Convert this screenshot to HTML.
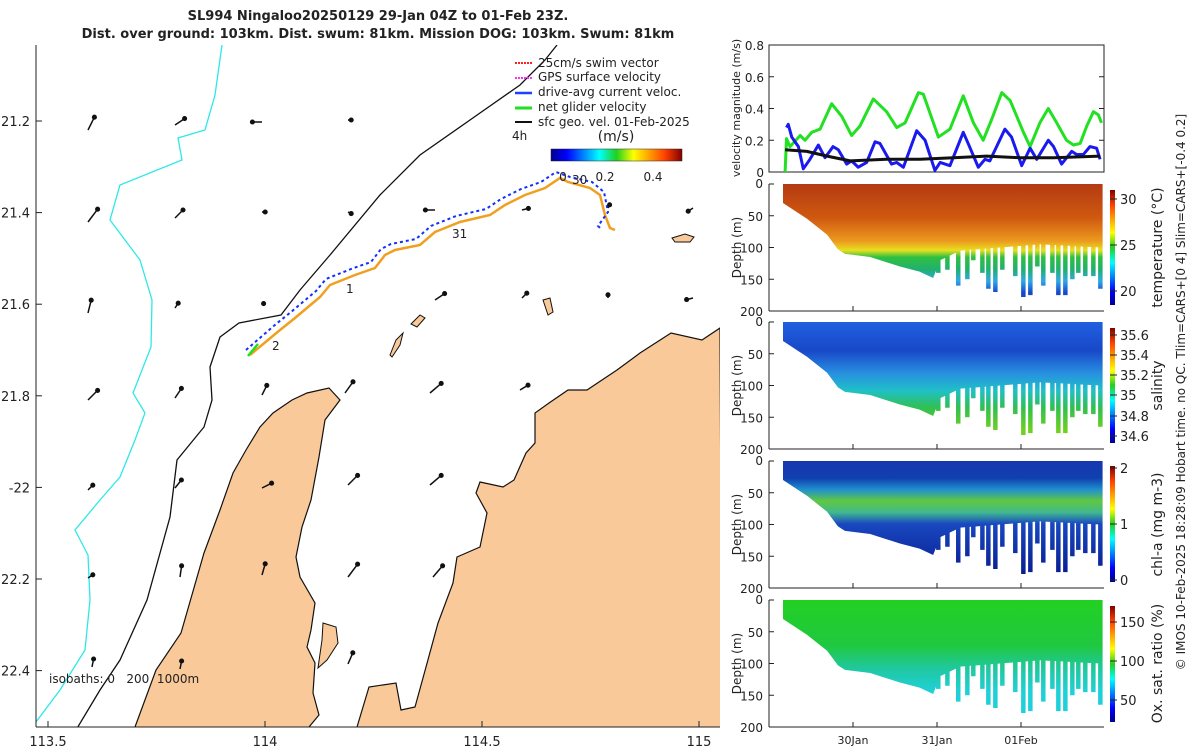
<!DOCTYPE html>
<html><head><meta charset="utf-8">
<style>
body{margin:0;background:#fff;width:1200px;height:750px;overflow:hidden;font-family:"Liberation Sans","DejaVu Sans",sans-serif;}
svg text{font-family:"DejaVu Sans","Liberation Sans",sans-serif;fill:#222;}
</style></head>
<body>
<svg id="fig" width="1200" height="750" viewBox="0 0 1200 750">
<defs>
<linearGradient id="jet" x1="0" x2="1" y1="0" y2="0">
<stop offset="0" stop-color="#00008f"/><stop offset="0.12" stop-color="#0000ff"/><stop offset="0.37" stop-color="#00ffff"/><stop offset="0.5" stop-color="#20d020"/><stop offset="0.63" stop-color="#ffff00"/><stop offset="0.87" stop-color="#ff4000"/><stop offset="1" stop-color="#800000"/>
</linearGradient>
<linearGradient id="jetv" x1="0" x2="0" y1="1" y2="0">
<stop offset="0" stop-color="#00008f"/><stop offset="0.12" stop-color="#0000ff"/><stop offset="0.37" stop-color="#00ffff"/><stop offset="0.5" stop-color="#20d020"/><stop offset="0.63" stop-color="#ffff00"/><stop offset="0.87" stop-color="#ff4000"/><stop offset="1" stop-color="#800000"/>
</linearGradient>
</defs>

<text x="378" y="20" text-anchor="middle" font-size="13" font-weight="bold">SL994 Ningaloo20250129 29-Jan 04Z to 01-Feb 23Z.</text>
<text x="378" y="38" text-anchor="middle" font-size="13" font-weight="bold">Dist. over ground: 103km. Dist. swum: 81km. Mission DOG: 103km. Swum: 81km</text>

<g>
<clipPath id="mapclip"><rect x="36" y="45" width="684" height="682"/></clipPath>
<g clip-path="url(#mapclip)">
<path fill="#f9c99a" stroke="#111" stroke-width="1.2" d="M130,730 L135,727 L156,670 L181,633 L204,553 L220,510 L233,473 L246,450 L260,427 L273,413 L292,400 L307,393 L329,388 L340,400 L325,420 L319,457 L311,500 L302,527 L296,557 L300,577 L315,603 L311,630 L307,647 L315,663 L313,693 L319,715 L309,727 L305,730 Z"/>
<path fill="#f9c99a" stroke="#111" stroke-width="1.2" d="M355,730 L357,727 L369,687 L396,683 L401,710 L415,707 L426,667 L438,623 L453,583 L457,557 L480,547 L487,513 L476,493 L480,482 L503,487 L514,480 L526,453 L535,443 L535,413 L549,403 L568,390 L587,390 L617,370 L640,353 L671,333 L702,340 L720,328 L722,730 Z"/>
<path fill="#f9c99a" stroke="#111" stroke-width="1" d="M323,623 L336,627 L338,643 L327,660 L318,668 L322,640 Z"/>
<path fill="#f9c99a" stroke="#111" d="M390,355 L396,340 L403,333 L400,345 L392,357 Z"/>
<path fill="#f9c99a" stroke="#111" d="M411,324 L420,315 L425,318 L417,327 Z"/>
<path fill="#f9c99a" stroke="#111" d="M543,300 L550,298 L553,312 L548,315 Z"/>
<path fill="#f9c99a" stroke="#111" d="M672,238 L685,234 L694,237 L690,242 L675,242 Z"/>
<path fill="none" stroke="#111" stroke-width="1.3" d="M76,730 L100,690 L120,660 L147,600 L170,517 L177,460 L204,427 L212,400 L210,367 L220,337 L239,323 L281,315 L300,290 L330,255 L380,195 L420,155 L470,120 L520,85 L545,60 L557,45"/>
<path fill="none" stroke="#2ee8e8" stroke-width="1.3" d="M222,45 L215,95 L205,130 L178,138 L182,160 L120,185 L110,220 L140,260 L152,300 L151,347 L133,393 L145,413 L135,440 L120,477 L100,500 L75,530 L88,555 L90,600 L85,650 L60,690 L36,722"/>
<polyline fill="none" stroke="#f0a020" stroke-width="2.5" points="250,355 280,330 295,318 320,297 330,285 355,275 375,268 385,255 395,250 420,245 435,232 440,230 460,222 490,215 505,205 525,195 545,188 560,178 568,182 590,188 600,195 605,215 610,228 615,230"/>
<polyline fill="none" stroke="#1030ff" stroke-width="2" stroke-dasharray="3,3" points="246,350 276,324 291,312 316,291 326,279 351,269 371,262 381,249 391,244 416,239 431,226 436,224 456,216 486,209 501,199 521,189 541,182 556,172 570,177 592,182 604,192 608,212 598,226 600,228"/>
<line x1="258" y1="344" x2="248" y2="356" stroke="#20e020" stroke-width="2.5"/>
<text x="272" y="350" font-size="12">2</text>
<text x="346" y="293" font-size="12">1</text>
<text x="452" y="238" font-size="12">31</text>
<text x="572" y="184" font-size="12">30</text>
<g stroke="#111" stroke-width="1.5" fill="none" id="arrows"></g>
</g>
<line x1="36" y1="45" x2="36" y2="727" stroke="#222"/>
<line x1="36" y1="727" x2="720" y2="727" stroke="#222"/>
<g id="mapticks" font-size="12"></g>
<text x="49" y="683" font-size="12" xml:space="preserve" style="white-space:pre">isobaths: 0   200  1000m</text>
<g font-size="12">
<line x1="515" y1="63" x2="532" y2="63" stroke="#ff2020" stroke-width="2" stroke-dasharray="2,1"/><text x="538" y="67">25cm/s swim vector</text>
<line x1="515" y1="78" x2="532" y2="78" stroke="#ff30ff" stroke-width="2" stroke-dasharray="2,1"/><text x="538" y="81">GPS surface velocity</text>
<line x1="515" y1="93" x2="532" y2="93" stroke="#2040ff" stroke-width="2.5"/><text x="538" y="96">drive-avg current veloc.</text>
<line x1="515" y1="108" x2="532" y2="108" stroke="#20e020" stroke-width="3"/><text x="538" y="111">net glider velocity</text>
<line x1="515" y1="122" x2="532" y2="122" stroke="#111" stroke-width="2"/><text x="538" y="126">sfc geo. vel. 01-Feb-2025</text>
<text x="512" y="140">4h</text>
</g>
<g>
<text x="616" y="141" font-size="14" text-anchor="middle">(m/s)</text>
<rect x="551" y="149" width="131" height="12" fill="url(#jet)" stroke="#222" stroke-width="0.5"/>
<text x="563" y="181" font-size="12" text-anchor="middle">0</text>
<text x="605" y="181" font-size="12" text-anchor="middle">0.2</text>
<text x="653" y="181" font-size="12" text-anchor="middle">0.4</text>
</g>
</g>

<g id="velchart"></g>
<g id="sections"></g>

<text transform="translate(1185,392) rotate(-90)" text-anchor="middle" font-size="12">© IMOS 10-Feb-2025 18:28:09 Hobart time. no QC. Tlim=CARS+[0 4] Slim=CARS+[-0.4 0.2]</text>
</svg>

<script>
// ---- velocity chart data (hours since 29-Jan 00Z) ----
const greenT=[4.6,5.0,6.0,8.9,10.3,12.2,14.6,17.9,20.8,23.6,26,29.8,33.6,36.5,38.9,42.7,44.1,48.4,51.7,55.5,58.4,61.2,63.6,66.5,68.9,72.7,74.6,77.4,79.8,82.2,85,87,88.9,90.8,92.7,94.1,95];
const greenV=[0,0.21,0.16,0.23,0.2,0.25,0.27,0.43,0.35,0.23,0.29,0.46,0.38,0.28,0.31,0.5,0.49,0.22,0.27,0.48,0.31,0.2,0.33,0.5,0.45,0.25,0.16,0.31,0.4,0.31,0.2,0.17,0.18,0.29,0.38,0.36,0.31];
const blueT=[5.0,5.5,6.5,8.4,9.8,11.7,14.1,16,18.3,19.8,22.2,23.6,25.5,27.9,30.3,31.7,35,36.5,38.4,42.2,44.6,47.4,48.9,51.7,55.5,56.9,59.8,61.7,63.1,67.4,69.3,72.2,74.6,76.5,79.8,81.3,83.6,86.5,87.9,89.8,91.7,93.6,94.6];
const blueV=[0.28,0.3,0.22,0.16,0.02,0.08,0.17,0.09,0.16,0.14,0.05,0.07,0.03,0.06,0.19,0.18,0.05,0.06,0.03,0.26,0.2,0.01,0.06,0.04,0.25,0.18,0.03,0.08,0.07,0.27,0.22,0.04,0.15,0.08,0.2,0.16,0.05,0.13,0.11,0.11,0.16,0.15,0.08];
const blackT=[4.6,10.8,16.6,23.2,33.6,43.2,52.7,62.2,71.7,81.3,94.6];
const blackV=[0.14,0.13,0.1,0.07,0.08,0.08,0.09,0.1,0.09,0.09,0.1];
const velTicks=[0,0.2,0.4,0.6,0.8];
const dateTicks=[{h:24,l:"30Jan"},{h:48,l:"31Jan"},{h:72,l:"01Feb"}];
// ---- section profile data ----
const baseT=[4,10.9,16.6,19.7,21.7,28.9,37.4,43,46.9,48.9,54.6,66,77.4,94.6];
const baseD=[30,55,80,103,110,115,130,138,148,120,105,100,95,100];
const castT=[48.3,50.9,54,56.6,58.3,60.9,62.6,64.6,66.6,70.3,72.6,74.6,76.6,78.3,80.9,82.6,84.6,86.6,88.3,90.3,92.6,94.6];
const castD=[140,135,160,150,120,140,165,170,135,145,178,175,130,160,140,175,175,150,140,145,145,165];

const NS="http://www.w3.org/2000/svg";
function mk(tag,attrs,parent){const e=document.createElementNS(NS,tag);for(const k in attrs)e.setAttribute(k,attrs[k]);parent.appendChild(e);return e;}
const xT=h=>853+(h-24)*3.5;

const mt=document.getElementById('mapticks');
const xLon=lon=>265+(lon-114)*434, yLat=lat=>121+(lat-21.2)*458;
[113.5,114,114.5,115].forEach(v=>{
 const t=mk('text',{x:xLon(v),y:746,'text-anchor':'middle','font-size':13},mt);t.textContent=String(v);
 
 mk('line',{x1:xLon(v),x2:xLon(v),y1:727,y2:721,stroke:'#222'},mt);
});
[["21.2",21.2],["21.4",21.4],["21.6",21.6],["21.8",21.8],["-22",22],["22.2",22.2],["22.4",22.4]].forEach(([l,v])=>{
 const t=mk('text',{x:30,y:yLat(v)+5,'text-anchor':'end','font-size':13},mt);t.textContent=l;
 
 mk('line',{x1:36,x2:42,y1:yLat(v),y2:yLat(v),stroke:'#222'},mt);
});
const ag=document.getElementById('arrows');
const arr=[[88,130,4,-8],[175,125,6,-4],[262,122,-6,0],[348,120,2,0],[88,222,6,-8],[175,218,5,-5],[262,212,2,0],[348,212,2,1],[435,210,-6,0],[522,210,4,-1],[608,208,1,-2],[693,208,-3,2],[88,313,2,-8],[175,308,2,-3],[262,302,1,1],[435,300,6,-4],[522,298,3,-3],[608,298,0,-2],[693,298,-4,1],[345,393,5,-7],[430,393,7,-6],[520,390,5,-3],[88,400,6,-6],[175,398,4,-6],[262,395,3,-6],[88,490,3,-3],[175,488,4,-5],[262,488,6,-3],[348,485,6,-6],[430,485,7,-6],[88,578,3,-2],[180,577,1,-7],[262,575,2,-7],[348,577,6,-8],[433,577,6,-7],[92,667,1,-5],[180,669,1,-5],[348,664,3,-7]];
arr.forEach(a=>{const x2=a[0]+a[2]*1.6,y2=a[1]+a[3]*1.6;mk('line',{x1:a[0],y1:a[1],x2:x2,y2:y2},ag);mk('circle',{cx:x2,cy:y2,r:1.8,fill:'#111'},ag);});

const vc=document.getElementById('velchart');
const vx0=769,vx1=1104,vy0=45,vy1=172;
const yV=v=>vy1-v/0.8*(vy1-vy0);
mk('rect',{x:vx0,y:vy0,width:vx1-vx0,height:vy1-vy0,fill:'none',stroke:'#222'},vc);
velTicks.forEach(v=>{
 mk('line',{x1:vx0,x2:vx0+5,y1:yV(v),y2:yV(v),stroke:'#222'},vc);
 mk('line',{x1:vx1,x2:vx1-5,y1:yV(v),y2:yV(v),stroke:'#222'},vc);
 const t=mk('text',{x:vx0-5,y:yV(v)+5,'text-anchor':'end','font-size':12},vc);t.textContent=v===0?"0":v.toFixed(1);
 
});
const yl=mk('text',{transform:'translate(740,108) rotate(-90)','text-anchor':'middle','font-size':11},vc);yl.textContent="velocity magnitude (m/s)";

function series(T,V,col,w,name){
 const p=mk('polyline',{fill:'none',stroke:col,'stroke-width':w,'stroke-linejoin':'round',points:T.map((h,i)=>xT(h)+','+yV(V[i])).join(' ')},vc);
 
}
series(greenT,greenV,'#22e022',3,'net-glider-velocity-line');
series(blueT,blueV,'#1a1aee',3,'current-velocity-line');
series(blackT,blackV,'#111',3,'geostrophic-velocity-line');

const sg=document.getElementById('sections');
const panels=[
 {top:184,name:'temperature',label:'temperature (°C)',stops:[[0,'#b43a12'],[0.3,'#d05a10'],[0.5,'#ec9a1e'],[0.58,'#e8e020'],[0.64,'#30c040'],[0.75,'#20b070'],[0.85,'#30a8e8'],[0.95,'#1848c8']],ticks:[["30",199],["25",245],["20",291]],bar:[190,305]},
 {top:322,name:'salinity',label:'salinity',stops:[[0,'#2060e0'],[0.25,'#1848c8'],[0.45,'#2890e0'],[0.6,'#20c0c8'],[0.75,'#30c050'],[0.95,'#70d020']],ticks:[["35.6",335],["35.4",355],["35.2",375],["35",395],["34.8",416],["34.6",436]],bar:[328,443]},
 {top:461,name:'chlorophyll',label:'chl-a (mg m-3)',stops:[[0,'#1838b0'],[0.15,'#1040b0'],[0.25,'#2090d0'],[0.35,'#60c840'],[0.45,'#40b890'],[0.55,'#1848c0'],[1,'#0a1c90']],ticks:[["2",468],["1",524],["0",580]],bar:[466,582]},
 {top:600,name:'oxygen',label:'Ox. sat. ratio (%)',stops:[[0,'#22d022'],[0.4,'#20c840'],[0.6,'#20c8a0'],[0.8,'#20d0d8']],ticks:[["150",622],["100",661],["50",700]],bar:[606,722]}
];
panels.forEach((P,pi)=>{
 const g=mk('g',{},sg);
 
 const H=127,yD=d=>P.top+d/200*H;
 const gid='grad'+pi;
 const lg=mk('linearGradient',{id:gid,gradientUnits:'userSpaceOnUse',x1:0,x2:0,y1:P.top,y2:P.top+H*0.9},g);
 P.stops.forEach(s=>mk('stop',{offset:s[0],'stop-color':s[1]},lg));
 const cp=mk('clipPath',{id:'clip'+pi},g);
 let d='M'+xT(baseT[0])+','+P.top+' ';
 baseT.forEach((h,i)=>d+='L'+xT(h)+','+yD(baseD[i])+' ');
 d+='L'+xT(baseT[baseT.length-1])+','+P.top+' Z';
 mk('path',{d:d},cp);
 castT.forEach((h,i)=>mk('rect',{x:xT(h)-2,y:P.top,width:4.5,height:yD(castD[i])-P.top},cp));
 mk('rect',{x:780,y:P.top,width:325,height:H,fill:'url(#'+gid+')','clip-path':'url(#clip'+pi+')'},g);
 mk('line',{x1:769,y1:P.top,x2:769,y2:P.top+H,stroke:'#222'},g);
 mk('line',{x1:769,y1:P.top+H,x2:1104,y2:P.top+H,stroke:'#222'},g);
 [0,50,100,150,200].forEach(v=>{
  mk('line',{x1:769,x2:774,y1:yD(v),y2:yD(v),stroke:'#222'},g);
  const t=mk('text',{x:763,y:yD(v)+(v===0?4:5),'text-anchor':'end','font-size':12},g);t.textContent=v;
  
 });
 dateTicks.forEach(dt=>mk('line',{x1:xT(dt.h),x2:xT(dt.h),y1:P.top+H,y2:P.top+H-5,stroke:'#222'},g));
 const yl=mk('text',{transform:'translate(741,'+(P.top+H/2)+') rotate(-90)','text-anchor':'middle','font-size':12},g);yl.textContent='Depth (m)';
 
 mk('rect',{x:1110,y:P.bar[0],width:5,height:P.bar[1]-P.bar[0],fill:'url(#jetv)'},g);
 P.ticks.forEach(tk=>{
  mk('line',{x1:1110,x2:1117,y1:tk[1],y2:tk[1],stroke:'#222'},g);
  const t=mk('text',{x:1120,y:tk[1]+5,'font-size':13},g);t.textContent=tk[0];
  
 });
 const cl=mk('text',{transform:'translate(1162,'+(P.top+H/2)+') rotate(-90)','text-anchor':'middle','font-size':14},g);cl.textContent=P.label;
 
});
dateTicks.forEach(dt=>{
 const t=mk('text',{x:xT(dt.h),y:744,'text-anchor':'middle','font-size':11},sg);t.textContent=dt.l;
 
});
</script>
</body></html>
